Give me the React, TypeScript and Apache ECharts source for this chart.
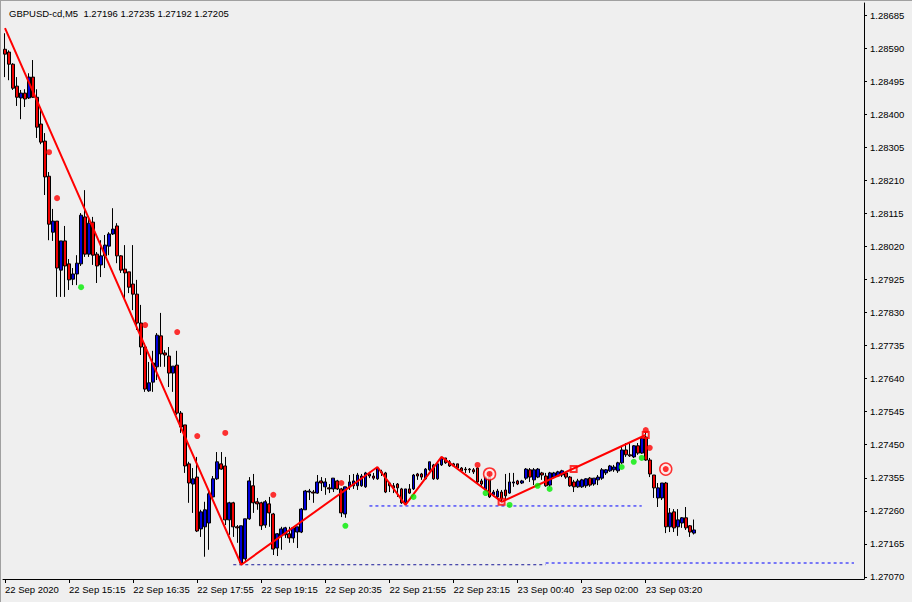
import React, { useEffect, useRef } from "react";
import * as echarts from "echarts";

const TITLE = "GBPUSD-cd,M5  1.27196 1.27235 1.27192 1.27205";
const FONT = "Liberation Sans";
const FONT_SIZE = 9.5;

// time-axis tick labels, one every 16 bars (M5)
const TIME_LABELS = [
  "22 Sep 2020", "22 Sep 15:15", "22 Sep 16:35", "22 Sep 17:55", "22 Sep 19:15",
  "22 Sep 20:35", "22 Sep 21:55", "22 Sep 23:15", "23 Sep 00:40", "23 Sep 02:00", "23 Sep 03:20",
];
const TIME_LABEL_STEP = 16;
const SLOT_COUNT = 215; // visible bar slots incl. chart shift

const PRICE_TICKS = [
  1.2707, 1.27165, 1.2726, 1.27355, 1.2745, 1.27545, 1.2764, 1.27735, 1.2783,
  1.27925, 1.2802, 1.28115, 1.2821, 1.28305, 1.284, 1.28495, 1.2859, 1.28685,
];
const PRICE_MIN = 1.27064;
const PRICE_MAX = 1.2872;
const LAST_PRICE = 1.27205;

const OPEN = [
  1.28587, 1.28579, 1.28544, 1.28481, 1.28447, 1.28461, 1.28447, 1.28507, 1.28449, 1.28372,
  1.28323, 1.28222, 1.28061, 1.28093, 1.27952, 1.28036, 1.2797, 1.27926, 1.27941, 1.2797,
  1.28105, 1.27998, 1.2809, 1.27998, 1.27967, 1.27993, 1.28021, 1.28056, 1.28079, 1.27993,
  1.27955, 1.27947, 1.27912, 1.27883, 1.278, 1.27731, 1.27605, 1.2763, 1.27674, 1.27763,
  1.27714, 1.27705, 1.27656, 1.27679, 1.27541, 1.27507, 1.27395, 1.27337, 1.27357, 1.27208,
  1.27214, 1.27225, 1.273, 1.27352, 1.27395, 1.27389, 1.27234, 1.27283, 1.27214, 1.2711,
  1.27122, 1.27237, 1.27332, 1.27286, 1.27283, 1.27219, 1.2728, 1.27251, 1.27153, 1.27188,
  1.27191, 1.27194, 1.27182, 1.27199, 1.27199, 1.27263, 1.27314, 1.27314, 1.27311, 1.27346,
  1.27329, 1.27326, 1.27323, 1.27346, 1.27323, 1.27251, 1.27329, 1.27332, 1.27332, 1.27332,
  1.27329, 1.27366, 1.2736, 1.27352, 1.27372, 1.27369, 1.2734, 1.27332, 1.27337, 1.27323,
  1.27283, 1.27323, 1.27323, 1.27366, 1.27366, 1.27352, 1.27378, 1.27392, 1.27352, 1.27392,
  1.27412, 1.27401, 1.27395, 1.27395, 1.27383, 1.2738, 1.2738, 1.27378, 1.27383, 1.27346,
  1.2732, 1.27357, 1.27306, 1.273, 1.27314, 1.2732, 1.27311, 1.2734, 1.27346, 1.2734,
  1.27354, 1.27378, 1.27349, 1.27357, 1.27369, 1.2736, 1.27334, 1.27357, 1.2736, 1.27363,
  1.27369, 1.27357, 1.27343, 1.27329, 1.27329, 1.27332, 1.27354, 1.27337, 1.27349, 1.27354,
  1.27369, 1.27375, 1.27378, 1.27375, 1.27398, 1.27435, 1.27421, 1.27415, 1.27447, 1.27426,
  1.27472, 1.27406, 1.27363, 1.27297, 1.27297, 1.2734, 1.27214, 1.27257, 1.27214, 1.27225,
  1.2724, 1.27217, 1.27196,
];
const CLOSE = [
  1.28573, 1.28544, 1.28475, 1.28449, 1.28461, 1.28444, 1.28507, 1.28449, 1.28363, 1.2832,
  1.2822, 1.28084, 1.28093, 1.27958, 1.28036, 1.27964, 1.27924, 1.27941, 1.27972, 1.2811,
  1.27998, 1.28087, 1.27995, 1.27964, 1.27993, 1.28024, 1.28056, 1.2807, 1.27993, 1.27952,
  1.27944, 1.27903, 1.27883, 1.278, 1.27731, 1.2761, 1.27628, 1.27685, 1.27765, 1.27711,
  1.27708, 1.27656, 1.27676, 1.27541, 1.27501, 1.27389, 1.2734, 1.27352, 1.27202, 1.27257,
  1.27263, 1.27309, 1.27352, 1.27401, 1.2738, 1.27234, 1.27283, 1.27214, 1.27211, 1.27217,
  1.27237, 1.27346, 1.27283, 1.2728, 1.27217, 1.27286, 1.27254, 1.2715, 1.27194, 1.27208,
  1.27211, 1.27182, 1.27211, 1.27214, 1.27265, 1.27317, 1.27317, 1.27311, 1.27343, 1.2734,
  1.27343, 1.27323, 1.27354, 1.27323, 1.27254, 1.27329, 1.27343, 1.27346, 1.27363, 1.2736,
  1.27369, 1.2736, 1.27354, 1.27383, 1.27369, 1.27314, 1.27332, 1.27326, 1.27326, 1.27283,
  1.27323, 1.27311, 1.27363, 1.2736, 1.27357, 1.2738, 1.27401, 1.27352, 1.27395, 1.27412,
  1.27398, 1.27389, 1.27389, 1.27383, 1.27375, 1.27378, 1.27378, 1.27372, 1.27343, 1.27337,
  1.27357, 1.273, 1.27314, 1.27317, 1.27294, 1.27303, 1.27343, 1.27343, 1.27337, 1.27346,
  1.2738, 1.27357, 1.27378, 1.2738, 1.27363, 1.27332, 1.27369, 1.27369, 1.27372, 1.27375,
  1.27357, 1.27332, 1.27329, 1.27346, 1.27349, 1.27352, 1.27334, 1.27354, 1.27357, 1.27378,
  1.27378, 1.27389, 1.27386, 1.27398, 1.27435, 1.27421, 1.27418, 1.27447, 1.27426, 1.27469,
  1.27406, 1.27366, 1.27326, 1.27326, 1.2734, 1.27214, 1.27254, 1.27211, 1.27234, 1.2724,
  1.27211, 1.27199, 1.27205,
];
const LOW = [
  1.28507, 1.28498, 1.2847, 1.28424, 1.28386, 1.28421, 1.28444, 1.28447, 1.28332, 1.28314,
  1.28168, 1.28038, 1.28036, 1.27875, 1.27875, 1.27875, 1.27895, 1.27909, 1.27909, 1.27964,
  1.2799, 1.2799, 1.27967, 1.27915, 1.27932, 1.27958, 1.27995, 1.28053, 1.27972, 1.27944,
  1.27866, 1.27886, 1.27837, 1.2778, 1.27708, 1.27602, 1.27602, 1.27602, 1.27636, 1.27674,
  1.27674, 1.27616, 1.27602, 1.27536, 1.27484, 1.27369, 1.27283, 1.27254, 1.27199, 1.27185,
  1.27128, 1.27148, 1.27297, 1.27349, 1.27378, 1.27219, 1.27191, 1.27185, 1.27168, 1.27105,
  1.27116, 1.27234, 1.27254, 1.27263, 1.27205, 1.27211, 1.27214, 1.27133, 1.2713, 1.27148,
  1.27182, 1.27168, 1.27168, 1.27153, 1.27196, 1.27263, 1.27291, 1.27283, 1.27309, 1.27317,
  1.27306, 1.27311, 1.27314, 1.2732, 1.27242, 1.2724, 1.2732, 1.27323, 1.2732, 1.27329,
  1.27326, 1.27354, 1.27349, 1.27349, 1.2736, 1.27311, 1.27314, 1.27311, 1.273, 1.2728,
  1.27277, 1.27309, 1.2732, 1.27349, 1.27349, 1.27349, 1.27375, 1.27349, 1.27349, 1.27389,
  1.27395, 1.27386, 1.27386, 1.27378, 1.27372, 1.27369, 1.27369, 1.27366, 1.2734, 1.27329,
  1.27317, 1.27297, 1.273, 1.27297, 1.27286, 1.27294, 1.27309, 1.27329, 1.27334, 1.27337,
  1.27349, 1.27343, 1.27334, 1.27354, 1.27349, 1.27329, 1.27329, 1.27354, 1.27357, 1.27357,
  1.27352, 1.27329, 1.27314, 1.27326, 1.27326, 1.27326, 1.27329, 1.27332, 1.27334, 1.27349,
  1.27363, 1.27372, 1.27372, 1.27369, 1.27395, 1.27415, 1.27415, 1.27412, 1.27421, 1.27424,
  1.27404, 1.27357, 1.27297, 1.27271, 1.27291, 1.27196, 1.27199, 1.27199, 1.27188, 1.27211,
  1.27205, 1.27185, 1.27192,
];
const HIGH = [
  1.28633, 1.28584, 1.28547, 1.28507, 1.2847, 1.28472, 1.28518, 1.28556, 1.28472, 1.28421,
  1.28346, 1.28234, 1.28128, 1.28093, 1.28036, 1.28079, 1.27984, 1.27958, 1.27995, 1.28116,
  1.28182, 1.28105, 1.28105, 1.28004, 1.28038, 1.28053, 1.28061, 1.2813, 1.28087, 1.27995,
  1.28024, 1.27947, 1.28024, 1.27924, 1.27852, 1.27742, 1.27688, 1.2772, 1.27771, 1.27829,
  1.27722, 1.27731, 1.27676, 1.2772, 1.27547, 1.27507, 1.27401, 1.27383, 1.27415, 1.27263,
  1.27286, 1.2732, 1.2736, 1.27429, 1.27429, 1.27415, 1.27286, 1.27286, 1.27219, 1.27217,
  1.27237, 1.27357, 1.27366, 1.27297, 1.27286, 1.27291, 1.273, 1.27254, 1.27196, 1.27214,
  1.27214, 1.27214, 1.27214, 1.27214, 1.27268, 1.2732, 1.27323, 1.2732, 1.27363, 1.27357,
  1.27354, 1.27337, 1.27354, 1.27349, 1.27326, 1.27329, 1.27363, 1.27366, 1.27369, 1.27366,
  1.27372, 1.27372, 1.27369, 1.27386, 1.27378, 1.27372, 1.27343, 1.2734, 1.2734, 1.27326,
  1.27323, 1.27337, 1.27366, 1.27369, 1.27369, 1.27383, 1.27401, 1.27395, 1.27398, 1.27415,
  1.27412, 1.27406, 1.27398, 1.27395, 1.27386, 1.27386, 1.27383, 1.27383, 1.27386, 1.27352,
  1.2736, 1.27372, 1.2732, 1.27323, 1.2732, 1.27366, 1.27369, 1.27369, 1.27349, 1.27349,
  1.27383, 1.27383, 1.27383, 1.27383, 1.27372, 1.27369, 1.27372, 1.27372, 1.27375, 1.27378,
  1.27372, 1.2736, 1.27349, 1.27352, 1.27352, 1.27354, 1.27357, 1.27354, 1.27363, 1.27383,
  1.2738, 1.27392, 1.27392, 1.27401, 1.27444, 1.27455, 1.27458, 1.27449, 1.27455, 1.27475,
  1.27487, 1.27412, 1.27363, 1.2734, 1.2734, 1.27343, 1.27268, 1.27265, 1.27265, 1.27242,
  1.27271, 1.27219, 1.27235,
];

// indicator overlays: [bar index, price]
const ZIGZAG = [
  [0, 1.28648], [59, 1.27105], [93, 1.27386], [100, 1.27277],
  [109, 1.27415], [124, 1.27286], [160, 1.27478],
];
const SQUARES = [[124, 1.27286], [142, 1.2738], [160, 1.27478]];
const RED_DOTS = [
  [11, 1.28291], [13, 1.28159], [35, 1.27794], [43, 1.27774], [48, 1.27475], [55, 1.27484],
  [67, 1.27306], [84, 1.2734], [118, 1.27392], [160, 1.27492], [161, 1.27441],
];
const GREEN_DOTS = [
  [19, 1.27903], [85, 1.27217], [102, 1.273], [120, 1.27311], [126, 1.27277],
  [133, 1.27332], [136, 1.27323], [154, 1.27386], [157, 1.27401], [159, 1.27412],
];
const TARGETS = [[121, 1.27366], [165, 1.2738]];
const LEVEL_A = [[57, 1.27105], [135, 1.27105]];
const LEVEL_B = [[135, 1.2711], [212, 1.2711]];
const LEVEL_C = [[91, 1.27274], [159, 1.27274]];

export default function App() {
  const ref = useRef<HTMLDivElement>(null);

  useEffect(() => {
    document.body.style.margin = "0";
    const chart = echarts.init(ref.current as HTMLDivElement, null, { renderer: "svg" });

    const categories = Array.from({ length: SLOT_COUNT }, (_, i) => String(i));
    const candles = OPEN.map((o, i) => [o, CLOSE[i], LOW[i], HIGH[i]]);
    const isTimeTick = (index: number) =>
      index % TIME_LABEL_STEP === 0 && index / TIME_LABEL_STEP < TIME_LABELS.length;

    const levelSeries = (data: number[][], color: string) => ({
      type: "line",
      data,
      symbol: "none",
      silent: true,
      lineStyle: { color, width: 1, type: [3, 3] },
      z: 3,
    });

    const option: any = {
      animation: false,
      backgroundColor: "#efefef",
      textStyle: { fontFamily: FONT },
      grid: { left: 3, top: 3, width: 861, height: 576 },
      xAxis: {
        type: "category",
        data: categories,
        boundaryGap: true,
        axisLine: { show: true, lineStyle: { color: "#000", width: 1 } },
        axisTick: {
          show: true,
          alignWithLabel: true,
          interval: (index: number) => isTimeTick(index),
          length: 4,
          lineStyle: { color: "#000" },
        },
        axisLabel: {
          show: true,
          interval: (index: number) => isTimeTick(index),
          formatter: (_v: string, index: number) =>
            isTimeTick(index) ? TIME_LABELS[index / TIME_LABEL_STEP] : "",
          align: "left",
          margin: 5,
          color: "#000",
          fontSize: FONT_SIZE,
          fontFamily: FONT,
        },
        splitLine: { show: false },
      },
      yAxis: {
        type: "value",
        position: "right",
        min: PRICE_MIN,
        max: PRICE_MAX,
        scale: true,
        axisLine: { show: true, lineStyle: { color: "#000", width: 1 } },
        axisTick: {
          show: true,
          customValues: PRICE_TICKS,
          length: 3,
          lineStyle: { color: "#000" },
        },
        axisLabel: {
          show: true,
          customValues: PRICE_TICKS,
          formatter: (v: number) => v.toFixed(5),
          margin: 6,
          color: "#000",
          fontSize: FONT_SIZE,
          fontFamily: FONT,
        },
        splitLine: { show: false },
      },
      graphic: [
        { type: "rect", shape: { x: 0, y: 0, width: 1, height: 603 }, style: { fill: "#a0a0a0" }, silent: true },
        { type: "rect", shape: { x: 0, y: 0, width: 913, height: 1 }, style: { fill: "#a0a0a0" }, silent: true },
        { type: "rect", shape: { x: 912, y: 0, width: 1, height: 603 }, style: { fill: "#ffffff" }, silent: true },
        { type: "rect", shape: { x: 0, y: 602, width: 913, height: 1 }, style: { fill: "#ffffff" }, silent: true },
        {
          type: "text",
          x: 9,
          y: 13,
          silent: true,
          style: {
            text: TITLE,
            fill: "#000",
            font: `${FONT_SIZE}px "${FONT}"`,
            verticalAlign: "middle",
          },
        },
      ],
      series: [
        {
          type: "candlestick",
          data: candles,
          barWidth: 3.3,
          silent: true,
          itemStyle: {
            color: "#0000d8",
            color0: "#f00000",
            borderColor: "#000000",
            borderColor0: "#000000",
            borderWidth: 1,
          },
          markLine: {
            silent: true,
            symbol: "none",
            data: [{ yAxis: LAST_PRICE }],
            lineStyle: { color: "transparent", width: 0 },
            label: {
              show: true,
              position: "end",
              distance: 3,
              formatter: LAST_PRICE.toFixed(5),
              color: "#ffffff",
              backgroundColor: "#000000",
              padding: [2, 3, 1, 3],
              fontSize: FONT_SIZE,
              fontFamily: FONT,
            },
          },
          z: 2,
        },
        levelSeries(LEVEL_A, "#1a1a9a"),
        levelSeries(LEVEL_B, "#0000ff"),
        levelSeries(LEVEL_C, "#0000ff"),
        {
          type: "line",
          data: ZIGZAG,
          symbol: "none",
          silent: true,
          lineStyle: { color: "#ff0000", width: 2 },
          z: 4,
        },
        {
          type: "scatter",
          data: SQUARES,
          symbol: "rect",
          symbolSize: 6,
          silent: true,
          itemStyle: { color: "rgba(0,0,0,0)", borderColor: "#ff0000", borderWidth: 2 },
          z: 5,
        },
        {
          type: "scatter",
          data: RED_DOTS,
          symbolSize: 6,
          silent: true,
          itemStyle: { color: "#ff0000" },
          z: 5,
        },
        {
          type: "scatter",
          data: GREEN_DOTS,
          symbolSize: 6,
          silent: true,
          itemStyle: { color: "#00ee00" },
          z: 5,
        },
        {
          type: "scatter",
          data: TARGETS,
          symbolSize: 12,
          silent: true,
          itemStyle: { color: "#ffe6e6", borderColor: "#ff0000", borderWidth: 1.5 },
          z: 6,
        },
        {
          type: "scatter",
          data: TARGETS,
          symbolSize: 6,
          silent: true,
          itemStyle: { color: "#ff0000" },
          z: 7,
        },
      ],
    };

    chart.setOption(option);
    return () => chart.dispose();
  }, []);

  return <div ref={ref} style={{ width: 913, height: 603 }} />;
}
